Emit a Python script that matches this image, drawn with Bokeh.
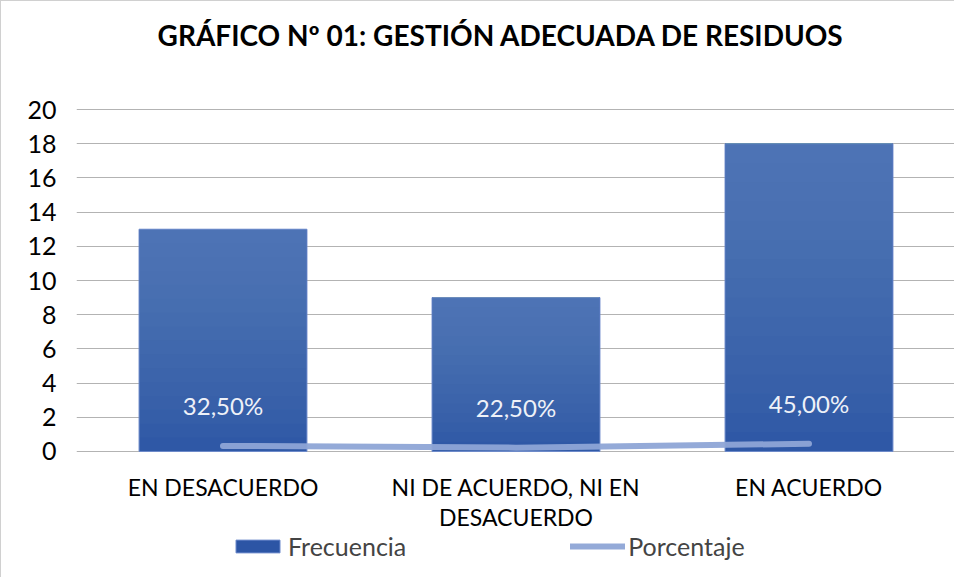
from bokeh.plotting import figure
from bokeh.models import Legend, LegendItem, ColumnDataSource, LabelSet, Label, FixedTicker
from bokeh.core.properties import value
from bokeh.embed import file_html
from bokeh.resources import INLINE

title_text = "GRÁFICO Nº 01:  GESTIÓN ADECUADA DE RESIDUOS"
categories = ["EN DESACUERDO", "NI DE ACUERDO, NI EN DESACUERDO", "EN ACUERDO"]
label_line1 = ["EN DESACUERDO", "NI DE ACUERDO, NI EN", "EN ACUERDO"]
label_line2 = ["", "DESACUERDO", ""]
frecuencia = [13, 9, 18]
porcentaje = [0.325, 0.225, 0.45]
porcentaje_text = ["32,50%", "22,50%", "45,00%"]
y_ticks = [0, 2, 4, 6, 8, 10, 12, 14, 16, 18, 20]

FONT = "Lato"

src = ColumnDataSource(dict(cat=categories, frec=frecuencia, pct=porcentaje,
                            txt=porcentaje_text, l1=label_line1, l2=label_line2,
                            base=[0] * len(categories)))

# frame spans the full height; the value axis 0..20 occupies the middle band
p = figure(x_range=categories, y_range=(-7.43, 26.32), width=954, height=577,
           min_border_left=75, min_border_right=0, min_border_top=0, min_border_bottom=0,
           output_backend="svg", toolbar_location=None)

bars = p.vbar(x="cat", top="frec", width=0.573, source=src,
              fill_color="#2c55a5", line_color="#6d8acb", line_width=1)
# gradient overlay (lighter towards the top)
n = 16
for j in range(n):
    frac = j / n
    p.vbar(x=categories, bottom=[v * frac for v in frecuencia], top=frecuencia, width=0.573,
           fill_color="#7592cf", fill_alpha=0.055, line_color=None)

line = p.line(x="cat", y="pct", source=src, line_color="#8ea5d6", line_width=6,
              line_alpha=0.95, line_cap="round")

p.add_layout(LabelSet(x="cat", y="pct", text="txt", source=src, y_offset=40,
                      text_align="center", text_baseline="middle",
                      text_color="#eef1f8", text_font=value(FONT), text_font_size="24px"))

for col, off in (("l1", -36), ("l2", -66)):
    p.add_layout(LabelSet(x="cat", y="base", text=col, source=src, y_offset=off,
                          text_align="center", text_baseline="middle",
                          text_color="#000000", text_font=value(FONT), text_font_size="23px"))

p.add_layout(Label(x=428, y=544, x_units="screen", y_units="screen", text=title_text,
                   text_align="center", text_baseline="middle", text_font=FONT,
                   text_font_style="bold", text_font_size="28px", text_color="#000000"))

p.yaxis.ticker = FixedTicker(ticks=y_ticks)
p.yaxis.axis_line_color = None
p.yaxis.major_tick_line_color = None
p.yaxis.minor_tick_line_color = None
p.yaxis.major_label_text_font = FONT
p.yaxis.major_label_text_font_size = "25px"
p.yaxis.major_label_text_color = "#000000"
p.yaxis.major_label_standoff = 14

p.xaxis.visible = False
p.xgrid.grid_line_color = None
p.ygrid.grid_line_color = "#b3b3b3"
p.ygrid.grid_line_width = 1
p.outline_line_color = None

legend = Legend(items=[LegendItem(label="Frecuencia", renderers=[bars]),
                       LegendItem(label="Porcentaje", renderers=[line])],
                orientation="horizontal", location=(154, 17),
                label_text_font=FONT, label_text_font_size="25px",
                glyph_width=55, glyph_height=16, spacing=164,
                border_line_color=None, background_fill_alpha=0,
                padding=0, margin=0, label_standoff=3)
p.add_layout(legend)

p.styles = {"border-left": "1px solid #d0d0d0", "border-top": "1px solid #d0d0d0"}

open("out.html", "w").write(file_html(p, INLINE))
